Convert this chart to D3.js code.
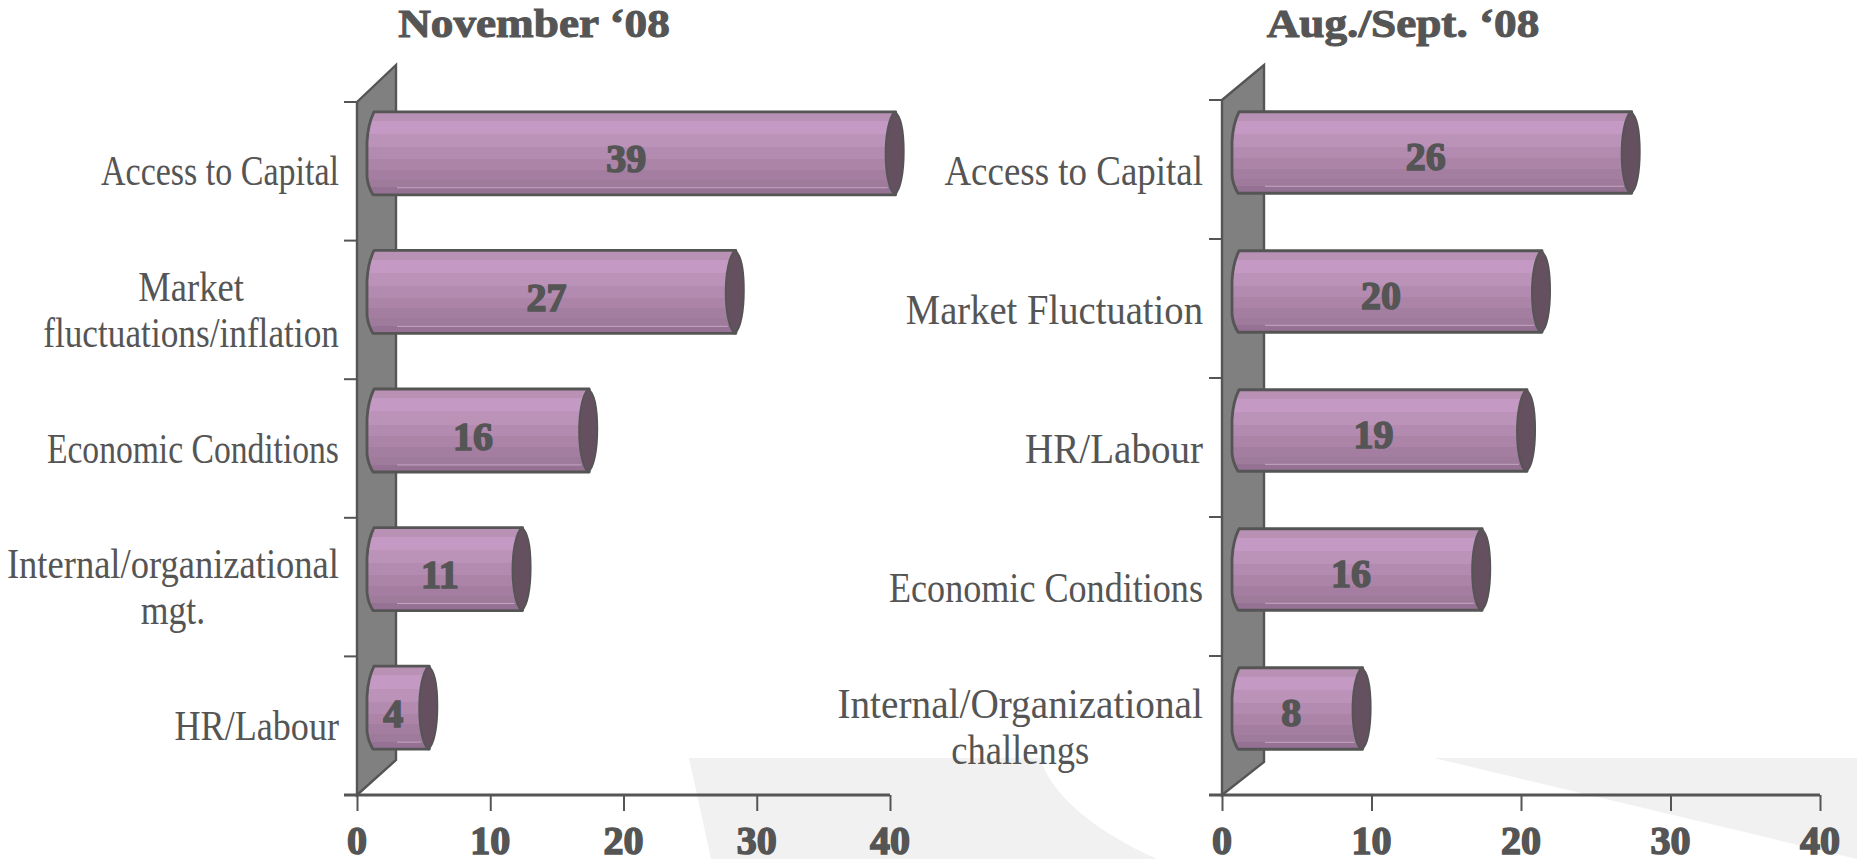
<!DOCTYPE html>
<html><head><meta charset="utf-8">
<script src="https://cdnjs.cloudflare.com/ajax/libs/d3/7.8.5/d3.min.js"></script>
<style>
html,body{margin:0;padding:0;background:#fff;overflow:hidden}
svg{display:block}
text{font-family:"Liberation Serif",serif;fill:#555}
.fat{font-weight:700;stroke:#555;stroke-width:1.6px;paint-order:stroke}
</style></head><body>
<svg id="c" width="1857" height="859"></svg>
<script>
const novCategories=[["Access to Capital"],["Market","fluctuations/inflation"],["Economic Conditions"],["Internal/organizational","mgt."],["HR/Labour"]];
const novValues=[39,27,16,11,4];
const augCategories=[["Access to Capital"],["Market Fluctuation"],["HR/Labour"],["Economic Conditions"],["Internal/Organizational","challengs"]];
const augValues=[26,20,19,16,8];
const xTicks=[0,10,20,30,40];
const titles=["November ‘08","Aug./Sept. ‘08"];

// horizontal squeeze of each label line (the reference face is a condensed serif)
const novFit=[[.81],[.87,.84],[.80],[.87,.85],[.86]];
const augFit=[[.88],[.92],[.93],[.86],[.935,.87]];

const ink="#555";
const bands=[[0,"#b891b4"],[.11,"#c49ac4"],[.27,"#bb92b8"],[.43,"#b38bb0"],[.57,"#ab84a8"],[.70,"#a37ea0"],[.82,"#9e7a9b"],[.91,"#957293"]];
const svg=d3.select("#c");
const defs=svg.append("defs");
const grad=defs.append("linearGradient").attr("id","bar").attr("x1",0).attr("x2",0).attr("y1",0).attr("y2",1);
bands.forEach((b,i)=>{
  const end=i<bands.length-1?bands[i+1][0]:1;
  grad.append("stop").attr("offset",b[0]).attr("stop-color",b[1]);
  grad.append("stop").attr("offset",end).attr("stop-color",b[1]);
});

// backdrop
svg.append("path").attr("fill","#f1f1f1").attr("d","M689,758L1040,758C1052,797 1097,832 1157,859L711,859Z");
svg.append("path").attr("fill","#f1f1f1").attr("d","M1434,758L1857,758L1857,859Z");

function panel(cfg){
  const x=d3.scaleLinear().domain([0,40]).range([cfg.x0,cfg.x40]);
  const y=d3.scaleBand().domain(d3.range(cfg.cats.length)).range([cfg.top,795]);
  const g=svg.append("g");
  const wallR=cfg.wallR, x0=cfg.x0;
  // back wall
  g.append("path").attr("d",`M${x0},${cfg.top}L${wallR},65L${wallR},${cfg.wallB}L${x0},795Z`)
    .attr("fill","#808080").attr("stroke",ink).attr("stroke-width",2.4);
  // category ticks
  g.selectAll("line.cat").data(d3.range(cfg.cats.length+1)).join("line")
    .attr("x1",x0-13).attr("x2",x0)
    .attr("y1",i=>i<cfg.cats.length?y(i):795).attr("y2",i=>i<cfg.cats.length?y(i):795)
    .attr("stroke",ink).attr("stroke-width",2);
  // value axis
  const ax=g.append("g").attr("transform","translate(0,795)")
    .call(d3.axisBottom(x).tickValues(xTicks).tickSize(16).tickPadding(0).tickFormat(""));
  ax.select(".domain").attr("d",`M${x0-13},0H${cfg.x40}`).attr("stroke",ink).attr("stroke-width",3);
  ax.selectAll(".tick line").attr("stroke",ink).attr("stroke-width",2);
  g.selectAll("text.xt").data(xTicks).join("text").attr("class","xt fat")
    .attr("x",d=>x(d)).attr("y",854).attr("text-anchor","middle").attr("font-size",40).text(d=>d);

  // bars
  const bh=cfg.bh, off=cfg.off, dep=cfg.dep, lx=x0+10;
  const bar=g.selectAll("g.bar").data(cfg.vals).join("g").attr("class","bar")
    .attr("transform",(d,i)=>`translate(0,${y(i)+y.bandwidth()/2+off-bh/2})`);
  bar.append("path").attr("fill","url(#bar)").attr("stroke",ink).attr("stroke-width",2.8).attr("stroke-linejoin","round")
    .attr("d",d=>{const e=x(d)+dep;
      return `M${lx+7},0L${e},0L${e},${bh}L${lx+6},${bh}Q${lx+1},${bh-8} ${lx},${bh-18}L${lx},30Q${lx+1},12 ${lx+7},0Z`;});
  bar.append("line").attr("x1",wallR+1).attr("x2",d=>x(d)+dep-8).attr("y1",bh*.915).attr("y2",bh*.915)
    .attr("stroke","#c6a6c4").attr("stroke-width",1);
  bar.append("path").attr("fill","#65505f").attr("stroke",ink).attr("stroke-width",2)
    .attr("d",d=>{const e=x(d)+dep-1;
      return `M${e},0C${e+6},4 ${e+9},20 ${e+9},40C${e+9},60 ${e+6},78 ${e},${bh}C${e-6},78 ${e-9},60 ${e-9},42C${e-9},24 ${e-6},6 ${e},0Z`;});
  g.selectAll("text.val").data(cfg.vals).join("text").attr("class","val fat")
    .attr("x",d=>(x(0)+x(d))/2+9.5).attr("y",(d,i)=>y(i)+y.bandwidth()/2+off+cfg.valDy)
    .attr("text-anchor","middle").attr("font-size",40).text(d=>d);

  // category labels
  const lh=46;
  g.selectAll("g.lab").data(cfg.cats).join("g").attr("class","lab").each(function(lines,i){
    const cy=y(i)+y.bandwidth()/2+cfg.labDy;
    const t=d3.select(this);
    const ts=lines.map((l,k)=>t.append("text").attr("font-size",42).attr("text-anchor","middle").text(l));
    const w=d3.max(ts.map((s,k)=>s.node().getComputedTextLength()*cfg.fit[i][k]));
    ts.forEach((s,k)=>s.attr("transform",`translate(${cfg.labR-w/2},${cy+(k-(lines.length-1)/2)*lh}) scale(${cfg.fit[i][k]},1)`));
  });
  // title
  g.append("text").attr("class","fat").attr("font-size",39).attr("text-anchor","middle")
    .attr("transform",`translate(${cfg.titleX},37) scale(1.16,1)`).text(cfg.title).style("stroke-width","1px");
}
panel({cats:novCategories,vals:novValues,fit:novFit,title:titles[0],x0:357,x40:890,wallR:396,wallB:760,top:102,labR:339,titleX:534,bh:83,off:-18,dep:19,valDy:19,labDy:14});
panel({cats:augCategories,vals:augValues,fit:augFit,title:titles[1],x0:1222,x40:1820,wallR:1264,wallB:762,top:100,labR:1203,titleX:1403,bh:81.5,off:-17,dep:21,valDy:17.5,labDy:15});
</script></body></html>
